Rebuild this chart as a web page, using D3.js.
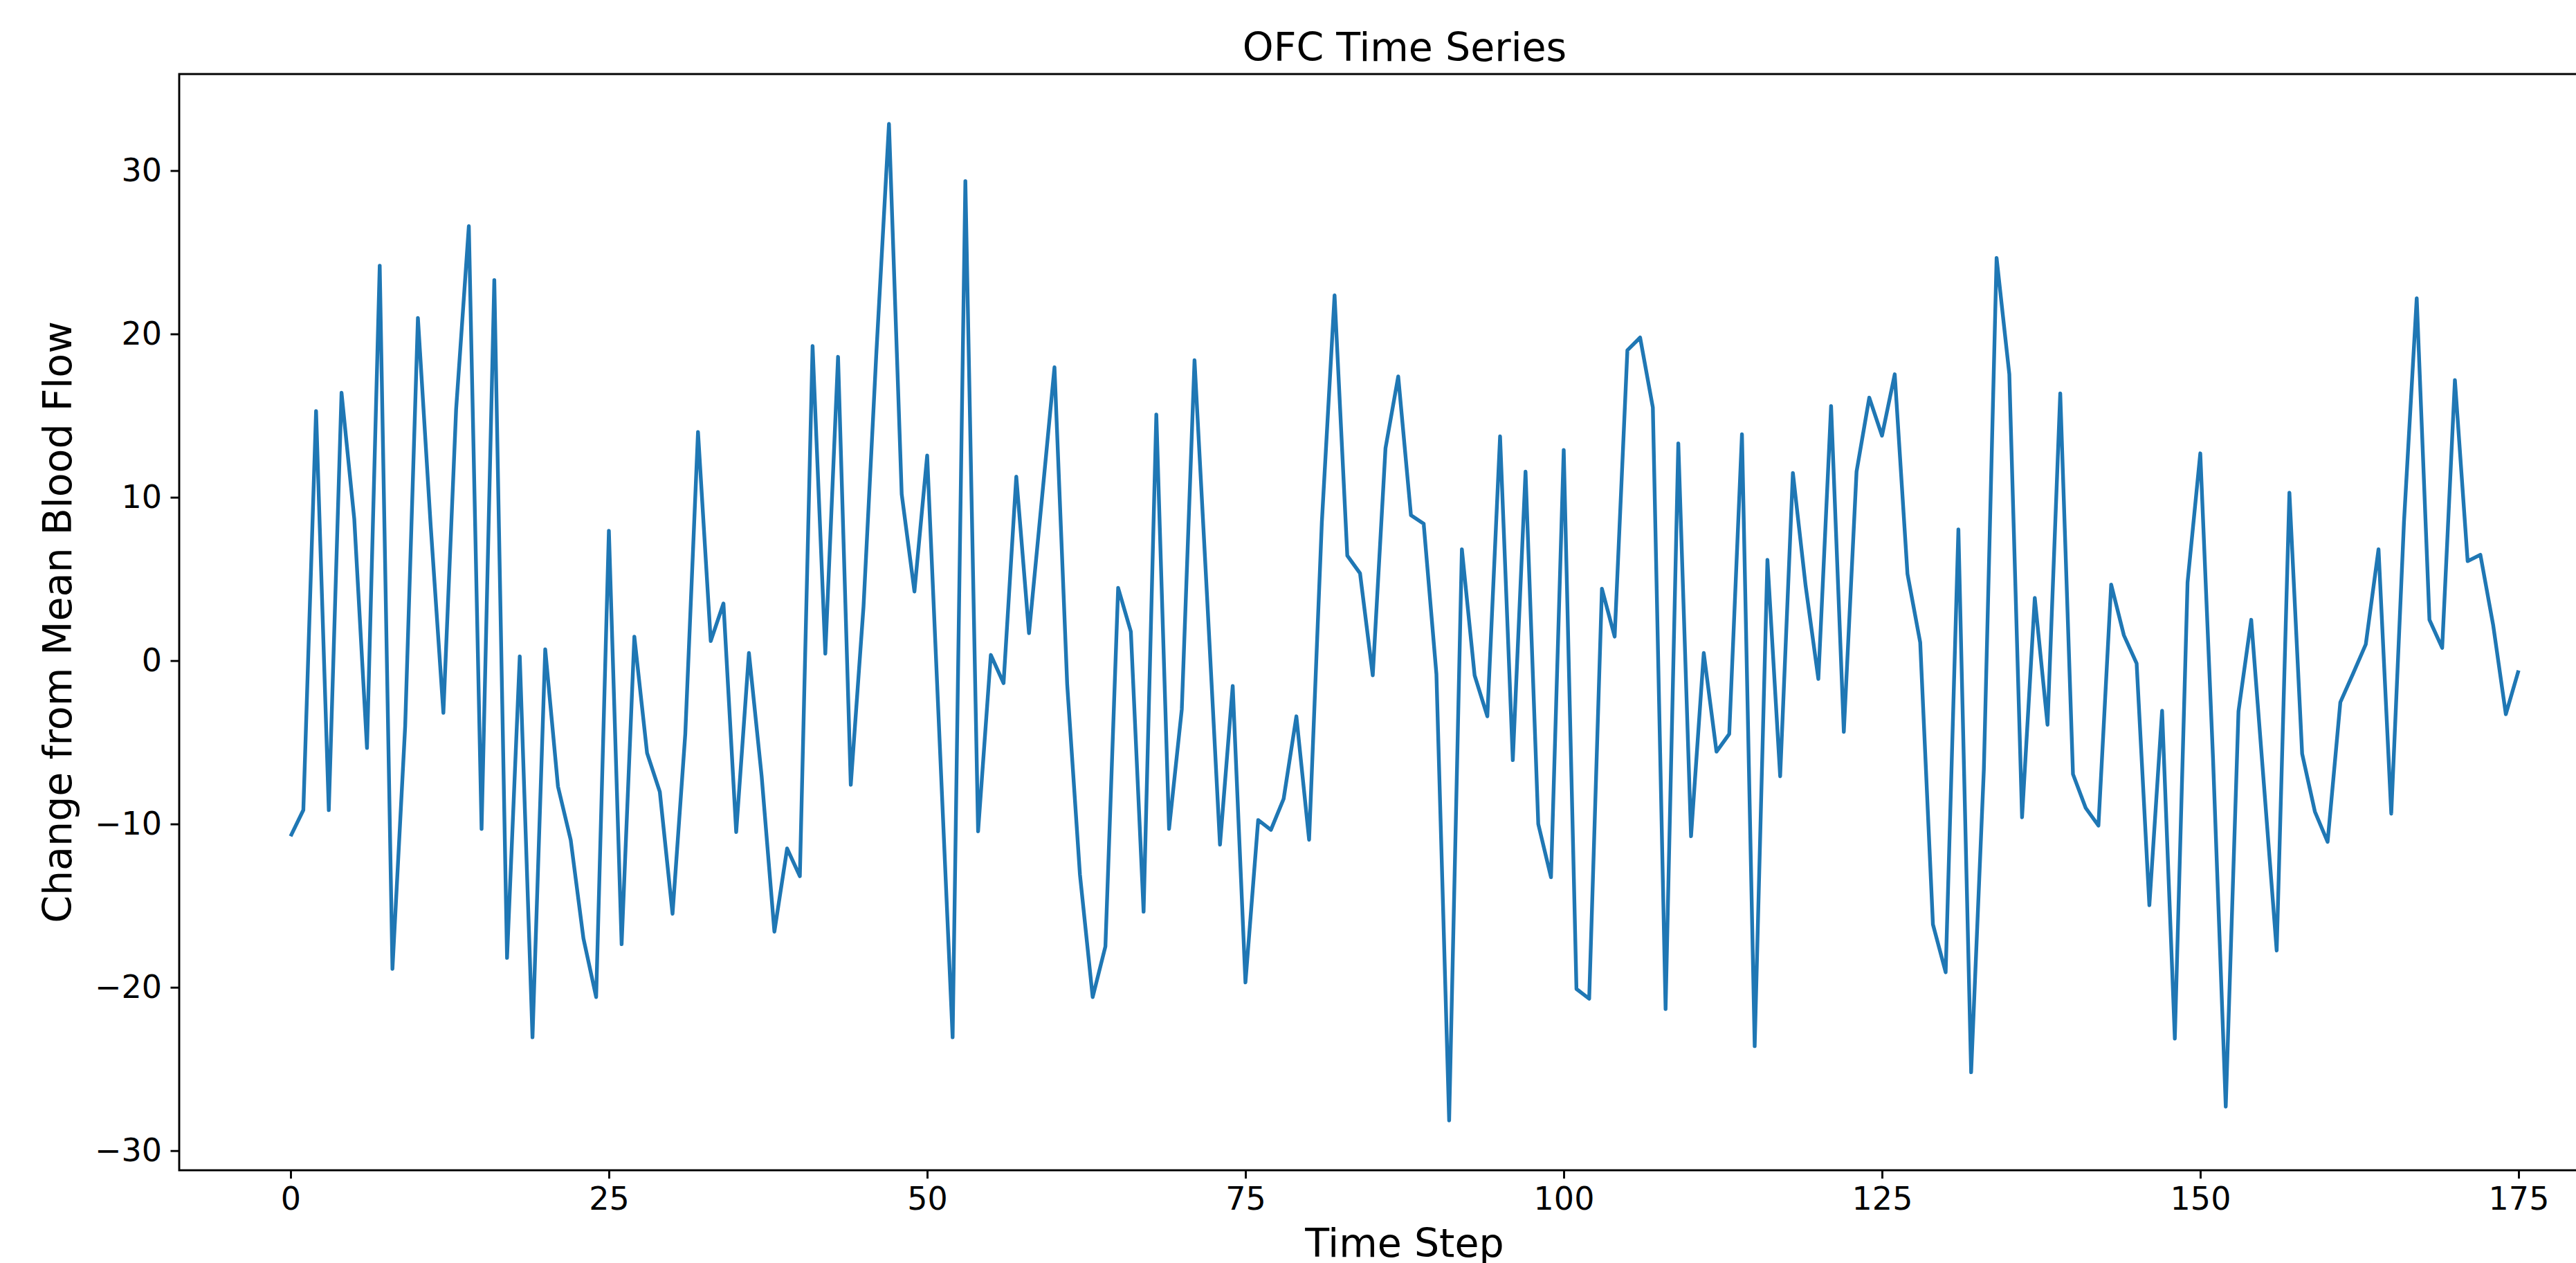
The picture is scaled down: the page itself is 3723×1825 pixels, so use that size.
<!DOCTYPE html>
<html>
<head>
<meta charset="utf-8">
<script src="https://cdn.jsdelivr.net/npm/d3@7"></script>
<style>
  body { margin: 0; background: #fff; }
  text { font-family: "DejaVu Sans", sans-serif; fill: #000; }
</style>
</head>
<body>
<div id="ofc-graph"></div>
<script>
/* global d3 */

// Change from mean blood flow, one value per time step (0..175)
const ofcValues = [
  -10.75, -9.15, 15.28, -9.15, 16.4, 8.68, -5.35, 24.18, -18.87, -4.0,
  20.98, 8.3, -3.2, 15.37, 26.6, -10.3, 23.3, -18.2, 0.26, -23.06,
  0.69, -7.7, -10.97, -17.0, -20.6, 7.95, -17.36, 1.47, -5.66, -8.03,
  -15.5, -4.5, 14.0, 1.2, 3.5, -10.5, 0.47, -7.08, -16.6, -11.5,
  -13.2, 19.26, 0.43, 18.6, -7.6, 3.3, 18.7, 32.86, 10.19, 4.23,
  12.56, -5.3, -23.06, 29.36, -10.45, 0.35, -1.38, 11.27, 1.68, 9.8,
  17.96, -1.47, -13.1, -20.6, -17.5, 4.45, 1.77, -15.37, 15.07, -10.3,
  -2.98, 18.39, 3.7, -11.27, -1.55, -19.7, -9.76, -10.36, -8.46, -3.41,
  -10.97, 8.46, 22.37, 6.43, 5.35, -0.9, 13.0, 17.4, 8.9, 8.38,
  -0.82, -28.15, 6.82, -0.9, -3.41, 13.73, -6.09, 11.57, -10.0, -13.26,
  12.9, -20.1, -20.7, 4.4, 1.47, 19.0, 19.78, 15.5, -21.33, 13.3,
  -10.75, 0.47, -5.57, -4.49, 13.86, -23.6, 6.17, -7.08, 11.49, 4.58,
  -1.12, 15.59, -4.36, 11.57, 16.1, 13.77, 17.53, 5.31, 1.12, -16.15,
  -19.08, 8.03, -25.2, -6.65, 24.65, 17.53, -9.59, 3.84, -3.93, 16.36,
  -6.95, -9.02, -10.1, 4.66, 1.55, -0.17, -14.98, -3.07, -23.14, 4.79,
  12.69, -6.0, -27.3, -3.1, 2.5, -7.6, -17.75, 10.28, -5.7, -9.24,
  -11.1, -2.55, -0.8, 1.0, 6.82, -9.37, 8.5, 22.19, 2.5, 0.78,
  17.18, 6.09, 6.48, 2.2, -3.28, -0.6
];
const timeSteps = d3.range(ofcValues.length);

const xTicks = [0, 25, 50, 75, 100, 125, 150, 175];
const yTicks = [-30, -20, -10, 0, 10, 20, 30];

const chartTitle = 'OFC Time Series';
const xLabel = 'Time Step';
const yLabel = 'Change from Mean Blood Flow';

const W = 3723, H = 1825;
// axes box (the right edge runs past the picture, like the original figure)
const margin = {top: 107, left: 259};
const w = 3542, h = 1584;

let svg = d3.select('#ofc-graph')
  .append('svg')
    .attr('width', W)
    .attr('height', H);

let chart = svg.append('g')
  .attr('transform', `translate(${margin.left}, ${margin.top})`);

// matplotlib style 5% padding on both axes
let xPad = (d3.max(timeSteps) - d3.min(timeSteps)) * 0.05;
let xScale = d3.scaleLinear()
  .domain([d3.min(timeSteps) - xPad, d3.max(timeSteps) + xPad])
  .range([0, w]);

let [yMin, yMax] = d3.extent(ofcValues);
let yPad = (yMax - yMin) * 0.05;
let yScale = d3.scaleLinear()
  .domain([yMin - yPad, yMax + yPad])
  .range([h, 0]);

// Axes
let xAxis = d3.axisBottom(xScale)
  .tickValues(xTicks)
  .tickSize(12)
  .tickPadding(12)
  .tickFormat(d3.format('d'));
let yAxis = d3.axisLeft(yScale)
  .tickValues(yTicks)
  .tickSize(12.5)
  .tickPadding(12.5)
  .tickFormat(d3.format('d'));

let xAxisCont = chart.append('g')
  .attr('transform', `translate(0, ${h})`)
  .call(xAxis);
let yAxisCont = chart.append('g')
  .call(yAxis);

[xAxisCont, yAxisCont].forEach(ax => {
  ax.select('.domain').remove();
  ax.selectAll('.tick line').attr('stroke', '#000').attr('stroke-width', 2.9);
  ax.selectAll('.tick text')
    .style('font-size', '46px')
    .style('font-family', '"DejaVu Sans", sans-serif');
});

// Line
let valueline = d3.line()
  .x((d, i) => xScale(timeSteps[i]))
  .y(d => yScale(d));

chart.append('path')
  .attr('class', 'dataLine')
  .attr('d', valueline(ofcValues))
  .attr('stroke', '#1f77b4')
  .attr('stroke-width', 5.4)
  .attr('stroke-linejoin', 'round')
  .attr('stroke-linecap', 'butt')
  .attr('fill', 'none');

// Frame
chart.append('rect')
  .attr('x', 0)
  .attr('y', 0)
  .attr('width', w)
  .attr('height', h)
  .attr('fill', 'none')
  .attr('stroke', '#000')
  .attr('stroke-width', 2.9);

// Labels
svg.append('text')
  .attr('x', margin.left + w / 2)
  .attr('y', 88)
  .attr('text-anchor', 'middle')
  .style('font-size', '57px')
  .text(chartTitle);

svg.append('text')
  .attr('x', margin.left + w / 2)
  .attr('y', 1816)
  .attr('text-anchor', 'middle')
  .style('font-size', '57px')
  .text(xLabel);

svg.append('text')
  .attr('transform', `translate(103, ${margin.top + h / 2}) rotate(-90)`)
  .attr('text-anchor', 'middle')
  .style('font-size', '57px')
  .text(yLabel);
</script>
</body>
</html>
